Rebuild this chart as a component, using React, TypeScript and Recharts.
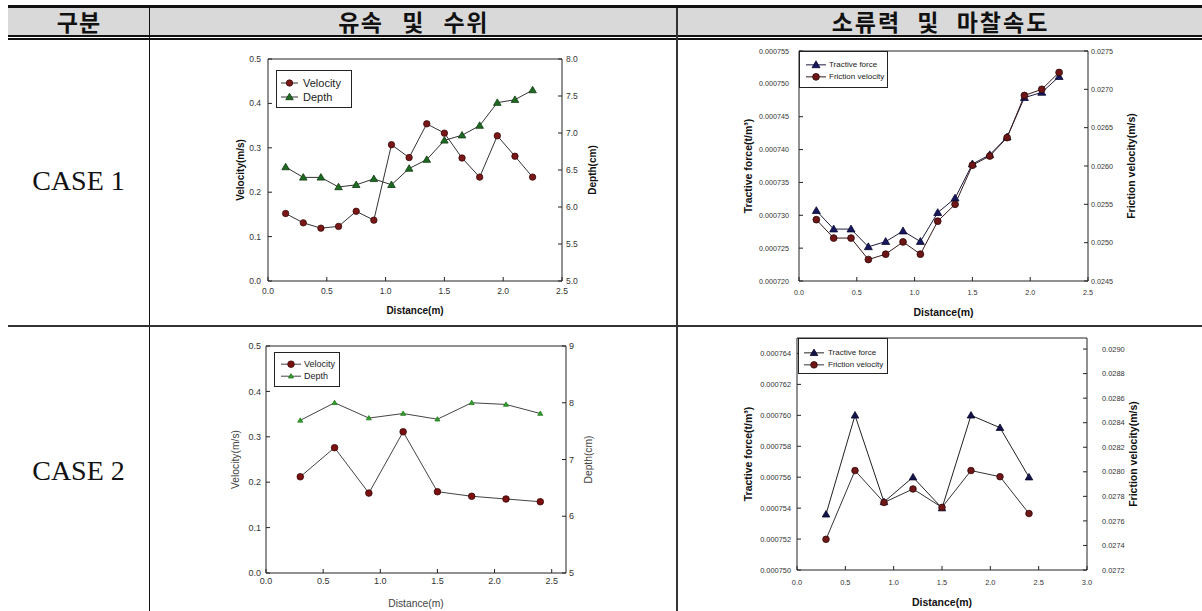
import React from 'react'
import { LineChart, Line, XAxis, YAxis, Legend, ReferenceLine } from 'recharts'

// CASE 1 : measured every 0.15 m
const dist1 = [0.15, 0.3, 0.45, 0.6, 0.75, 0.9, 1.05, 1.2, 1.35, 1.5, 1.65, 1.8, 1.95, 2.1, 2.25]
const velocity1 = [0.152, 0.131, 0.119, 0.123, 0.157, 0.137, 0.307, 0.278, 0.354, 0.333, 0.277, 0.234, 0.327, 0.281, 0.234]
const depth1 = [6.54, 6.4, 6.4, 6.27, 6.3, 6.38, 6.3, 6.52, 6.64, 6.9, 6.97, 7.1, 7.41, 7.45, 7.58]
const tractive1 = [0.0007307, 0.0007279, 0.0007279, 0.0007252, 0.000726, 0.0007276, 0.000726, 0.0007304, 0.0007326, 0.0007378, 0.0007392, 0.0007419, 0.0007479, 0.0007487, 0.0007511]
const friction1 = [0.0253, 0.02506, 0.02506, 0.02478, 0.02485, 0.02501, 0.02485, 0.02528, 0.0255, 0.02601, 0.02613, 0.02637, 0.02692, 0.027, 0.02722]

// CASE 2 : measured every 0.3 m
const dist2 = [0.3, 0.6, 0.9, 1.2, 1.5, 1.8, 2.1, 2.4]
const velocity2 = [0.212, 0.276, 0.176, 0.311, 0.179, 0.169, 0.163, 0.157]
const depth2 = [7.69, 8.0, 7.73, 7.81, 7.71, 8.0, 7.97, 7.81]
const tractive2 = [0.0007536, 0.00076, 0.0007544, 0.000756, 0.000754, 0.00076, 0.0007592, 0.000756]
const friction2 = [0.02745, 0.02801, 0.02775, 0.02786, 0.02771, 0.02801, 0.02796, 0.02766]

// tick values
const xTicks25 = [0, 0.5, 1, 1.5, 2, 2.5]
const xTicks30 = [0, 0.5, 1, 1.5, 2, 2.5, 3]
const velTicks = [0, 0.1, 0.2, 0.3, 0.4, 0.5]
const depthTicks1 = [5, 5.5, 6, 6.5, 7, 7.5, 8]
const depthTicks2 = [5, 6, 7, 8, 9]
const forceTicks1 = [0.00072, 0.000725, 0.00073, 0.000735, 0.00074, 0.000745, 0.00075, 0.000755]
const fricTicks1 = [0.0245, 0.025, 0.0255, 0.026, 0.0265, 0.027, 0.0275]
const forceTicks2 = [0.00075, 0.000752, 0.000754, 0.000756, 0.000758, 0.00076, 0.000762, 0.000764]
const fricTicks2 = [0.0272, 0.0274, 0.0276, 0.0278, 0.028, 0.0282, 0.0284, 0.0286, 0.0288, 0.029]

const headers = ['구분', '유속 및 수위', '소류력 및 마찰속도']
const caseNames = ['CASE 1', 'CASE 2']

const FONT = '"Liberation Sans", Arial, sans-serif'

const data1 = dist1.map((x, i) => ({ x, velocity: velocity1[i], depth: depth1[i], tractive: tractive1[i], friction: friction1[i] }))
const data2 = dist2.map((x, i) => ({ x, velocity: velocity2[i], depth: depth2[i], tractive: tractive2[i], friction: friction2[i] }))

type Marker = { shape: 'circle' | 'tri'; fill: string; stroke: string; size: number }

const drawMarker = (m: Marker, cx: number, cy: number, key?: any) => {
  if (m.shape === 'circle') {
    return <circle key={key} cx={cx} cy={cy} r={m.size} fill={m.fill} stroke={m.stroke} strokeWidth={0.8} />
  }
  const s = m.size
  const pts = `${cx},${cy - s * 1.05} ${cx - s * 1.05},${cy + s * 0.75} ${cx + s * 1.05},${cy + s * 0.75}`
  return <polygon key={key} points={pts} fill={m.fill} stroke={m.stroke} strokeWidth={0.8} />
}

const ChartPanel = ({ cfg }: any) => {
  const tickStyle = { fontSize: cfg.tickFont, fill: '#333', fontFamily: FONT }
  const titleStyle = { fontSize: cfg.titleFont, fontWeight: cfg.bold ? 'bold' : 'normal', fill: cfg.bold ? '#111' : '#444', fontFamily: FONT, textAnchor: 'middle' as const }
  const lg = cfg.legend

  const legendContent = () => (
    <div style={{ width: lg.width, height: lg.height, border: '1px solid #222', boxSizing: 'border-box', background: '#fff', paddingTop: lg.padTop, paddingLeft: lg.padLeft }}>
      {cfg.series.map((s: any) => (
        <div key={s.key} style={{ display: 'flex', alignItems: 'center', height: lg.rowH }}>
          <svg width={lg.iconW} height={lg.rowH}>
            <line x1={0} x2={lg.iconW} y1={lg.rowH / 2} y2={lg.rowH / 2} stroke={s.color} strokeWidth={1} />
            {drawMarker(s.marker, lg.iconW / 2, lg.rowH / 2)}
          </svg>
          <span style={{ marginLeft: lg.gap, fontSize: lg.fontSize, fontFamily: FONT, color: '#222', lineHeight: 1 }}>{s.name}</span>
        </div>
      ))}
    </div>
  )

  return (
    <div style={{ position: 'absolute', left: cfg.left, top: cfg.top }}>
      <LineChart width={cfg.width} height={cfg.height} data={cfg.data} margin={cfg.margin}>
        <XAxis type="number" dataKey="x" domain={cfg.xDomain} ticks={cfg.xTicks} interval={0}
          tickFormatter={(v: number) => v.toFixed(1)} height={cfg.xHeight} tickSize={-4} tickMargin={cfg.xTickMargin}
          tick={tickStyle} axisLine={{ stroke: '#222' }} tickLine={{ stroke: '#222' }}
          label={{ value: 'Distance(m)', position: 'insideBottom', offset: cfg.xLabelOffset, style: titleStyle }} />
        <YAxis yAxisId="l" orientation="left" type="number" width={cfg.lWidth} domain={cfg.lDomain} ticks={cfg.lTicks} interval={0}
          tickFormatter={(v: number) => v.toFixed(cfg.lDigits)} tickSize={-4} tickMargin={cfg.lTickMargin}
          tick={tickStyle} axisLine={{ stroke: '#222' }} tickLine={{ stroke: '#222' }}
          label={{ value: cfg.lTitle, angle: -90, position: 'insideLeft', offset: cfg.lLabelOffset, style: titleStyle }} />
        <YAxis yAxisId="r" orientation="right" type="number" width={cfg.rWidth} domain={cfg.rDomain} ticks={cfg.rTicks} interval={0}
          tickFormatter={(v: number) => v.toFixed(cfg.rDigits)} tickSize={-4} tickMargin={cfg.rTickMargin}
          tick={tickStyle} axisLine={{ stroke: '#222' }} tickLine={{ stroke: '#222' }}
          label={{ value: cfg.rTitle, angle: -90, position: 'insideRight', offset: cfg.rLabelOffset, style: titleStyle }} />
        <ReferenceLine yAxisId="l" y={cfg.lDomain[1]} stroke="#222" strokeWidth={1} />
        {cfg.series.map((s: any) => (
          <Line key={s.key} yAxisId={s.axis} dataKey={s.key} name={s.name} stroke={s.color} strokeWidth={1}
            dot={(p: any) => drawMarker(s.marker, p.cx, p.cy, `${s.key}-${p.index}`)}
            activeDot={false} isAnimationActive={false} />
        ))}
        <Legend layout="vertical" align="center" verticalAlign="middle" content={legendContent}
          wrapperStyle={{ left: lg.left, top: lg.top, width: lg.width, height: lg.height }} />
      </LineChart>
    </div>
  )
}

const charts = [
  {
    left: 220, top: 45, width: 380, height: 280, margin: { top: 14, right: 0, bottom: 4, left: 0 },
    data: data1, xDomain: [0, 2.5], xTicks: xTicks25, xHeight: 40, xTickMargin: 10.5, xLabelOffset: 7.5,
    lWidth: 48, lDomain: [0, 0.5], lTicks: velTicks, lDigits: 1, lTickMargin: 11, lTitle: 'Velocity(m/s)', lLabelOffset: 20,
    rWidth: 38, rDomain: [5, 8], rTicks: depthTicks1, rDigits: 1, rTickMargin: 8, rTitle: 'Depth(cm)', rLabelOffset: 8,
    tickFont: 8.5, titleFont: 10, bold: true,
    series: [
      { key: 'velocity', name: 'Velocity', axis: 'l', color: '#333', marker: { shape: 'circle', fill: '#7a1717', stroke: '#3a0a0a', size: 3.2 } },
      { key: 'depth', name: 'Depth', axis: 'r', color: '#333', marker: { shape: 'tri', fill: '#1f6a22', stroke: '#0e3a10', size: 3.6 } },
    ],
    legend: { left: 56, top: 25, width: 76, height: 38, padTop: 5, padLeft: 4, rowH: 14, iconW: 17, gap: 5, fontSize: 11 },
  },
  {
    left: 740, top: 38, width: 400, height: 288, margin: { top: 13, right: 0, bottom: 5, left: 0 },
    data: data1, xDomain: [0, 2.5], xTicks: xTicks25, xHeight: 40, xTickMargin: 13, xLabelOffset: 5,
    lWidth: 59, lDomain: [0.00072, 0.000755], lTicks: forceTicks1, lDigits: 6, lTickMargin: 14, lTitle: 'Tractive force(t/m³)', lLabelOffset: 8,
    rWidth: 52, rDomain: [0.0245, 0.0275], rTicks: fricTicks1, rDigits: 4, rTickMargin: 7, rTitle: 'Friction velocity(m/s)', rLabelOffset: 9,
    tickFont: 7.2, titleFont: 10.5, bold: true,
    series: [
      { key: 'tractive', name: 'Tractive force', axis: 'l', color: '#1d1d40', marker: { shape: 'tri', fill: '#17175e', stroke: '#0a0a30', size: 3.8 } },
      { key: 'friction', name: 'Friction velocity', axis: 'r', color: '#3a1a1a', marker: { shape: 'circle', fill: '#6e1616', stroke: '#2e0808', size: 3.4 } },
    ],
    legend: { left: 59, top: 13, width: 89, height: 37, padTop: 7, padLeft: 6, rowH: 11.7, iconW: 20, gap: 3, fontSize: 8 },
  },
  {
    left: 220, top: 330, width: 380, height: 281, margin: { top: 16, right: 0, bottom: 0, left: 0 },
    data: data2, xDomain: [0, 2.625], xTicks: xTicks25, xHeight: 38, xTickMargin: 8.5, xLabelOffset: 4.5,
    lWidth: 46, lDomain: [0, 0.5], lTicks: velTicks, lDigits: 1, lTickMargin: 9, lTitle: 'Velocity(m/s)', lLabelOffset: 15,
    rWidth: 34, rDomain: [5, 9], rTicks: depthTicks2, rDigits: 0, rTickMargin: 7, rTitle: 'Depth(cm)', rLabelOffset: 12,
    tickFont: 9, titleFont: 10.3, bold: false,
    series: [
      { key: 'velocity', name: 'Velocity', axis: 'l', color: '#444', marker: { shape: 'circle', fill: '#7a1010', stroke: '#3a0606', size: 3.3 } },
      { key: 'depth', name: 'Depth', axis: 'r', color: '#444', marker: { shape: 'tri', fill: '#33a02c', stroke: '#1f7a1c', size: 2.4 } },
    ],
    legend: { left: 54, top: 22, width: 66, height: 35, padTop: 5, padLeft: 6, rowH: 12.4, iconW: 20, gap: 3, fontSize: 9 },
  },
  {
    left: 740, top: 326, width: 402, height: 285, margin: { top: 12, right: 0, bottom: 1, left: 0 },
    data: data2, xDomain: [0, 3], xTicks: xTicks30, xHeight: 40, xTickMargin: 14, xLabelOffset: 4,
    lWidth: 57, lDomain: [0.00075, 0.000765], lTicks: forceTicks2, lDigits: 6, lTickMargin: 10, lTitle: 'Tractive force(t/m³)', lLabelOffset: 8,
    rWidth: 55, rDomain: [0.0272, 0.02909], rTicks: fricTicks2, rDigits: 4, rTickMargin: 19, rTitle: 'Friction velocity(m/s)', rLabelOffset: 9,
    tickFont: 7.4, titleFont: 10.5, bold: true,
    series: [
      { key: 'tractive', name: 'Tractive force', axis: 'l', color: '#222', marker: { shape: 'tri', fill: '#13134a', stroke: '#08082a', size: 3.6 } },
      { key: 'friction', name: 'Friction velocity', axis: 'r', color: '#333', marker: { shape: 'circle', fill: '#701818', stroke: '#300808', size: 3.3 } },
    ],
    legend: { left: 58, top: 12, width: 90, height: 36, padTop: 8, padLeft: 5, rowH: 11.7, iconW: 20, gap: 4, fontSize: 8 },
  },
]

const rule = (style: any, key: string) => <div key={key} style={{ position: 'absolute', background: '#111', ...style }} />

export default function App() {
  const headerStyle: any = {
    position: 'absolute', top: 8, height: 27, lineHeight: '27px', textAlign: 'center', whiteSpace: 'pre',
    fontFamily: '"Noto Sans CJK KR", sans-serif', fontWeight: 'bold', fontSize: 23, color: '#111',
  }
  const caseStyle: any = {
    position: 'absolute', left: 8, width: 141, height: 30, lineHeight: '30px', textAlign: 'center',
    fontFamily: '"Liberation Serif", serif', fontSize: 28, color: '#111',
  }
  return (
    <div style={{ position: 'absolute', left: 0, top: 0, width: 1202, height: 611, background: '#fff', overflow: 'hidden' }}>
      <div style={{ position: 'absolute', left: 8, top: 8, width: 1194, height: 27, background: '#d9d9d9' }} />
      {rule({ left: 8, top: 5, width: 1194, height: 3 }, 'top')}
      {rule({ left: 8, top: 35, width: 1194, height: 2 }, 'd1')}
      {rule({ left: 8, top: 38, width: 1194, height: 2 }, 'd2')}
      {rule({ left: 149, top: 8, width: 1, height: 603 }, 'v1')}
      {rule({ left: 676, top: 8, width: 1.5, height: 603, background: '#333' }, 'v2')}
      {rule({ left: 8, top: 325, width: 1194, height: 1.5, background: '#333' }, 'row')}
      <div style={{ ...headerStyle, left: 8, width: 141, letterSpacing: 1, textIndent: 1 }}>{headers[0]}</div>
      <div style={{ ...headerStyle, left: 150, width: 526, letterSpacing: 1.5, wordSpacing: 12, textIndent: 1 }}>{headers[1]}</div>
      <div style={{ ...headerStyle, left: 677, width: 525, letterSpacing: 2, wordSpacing: 9, textIndent: 2 }}>{headers[2]}</div>
      <div style={{ ...caseStyle, top: 166 }}>{caseNames[0]}</div>
      <div style={{ ...caseStyle, top: 456 }}>{caseNames[1]}</div>
      {charts.map((c, i) => <ChartPanel key={i} cfg={c} />)}
    </div>
  )
}
